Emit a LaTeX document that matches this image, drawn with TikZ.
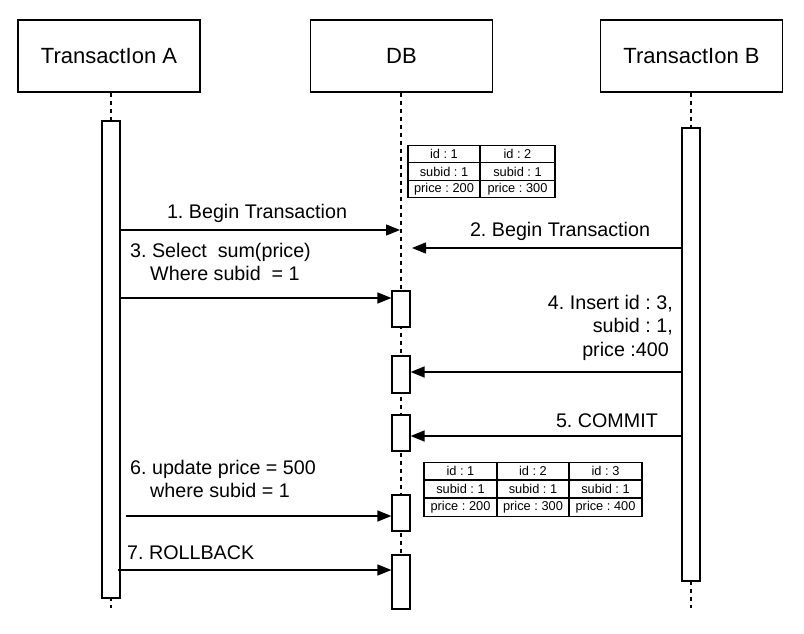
\documentclass[tikz,border=0pt]{standalone}
\usepackage{fontspec}
\setmainfont{Liberation Sans}
\usetikzlibrary{arrows.meta}
\frenchspacing
\begin{document}
\begin{tikzpicture}[x=1pt,y=-1pt,
  header/.style={draw,line width=1.2pt,minimum width=182pt,minimum height=72pt,inner sep=0pt,font=\fontsize{22}{25}\selectfont},
  act/.style={draw,fill=white,line width=1.2pt,minimum width=18pt,inner sep=0pt},
  life/.style={line width=1.3pt,dash pattern=on 4pt off 4pt},
  msg/.style={line width=1.4pt,-{Triangle[length=14pt,width=11pt]}},
  lbl/.style={inner sep=0pt,font=\fontsize{19.7}{23.5}\selectfont},
  cell/.style={draw,line width=1.2pt,inner sep=0pt,minimum height=17.6pt,font=\fontsize{12.8}{14}\selectfont}
]
\useasboundingbox[fill=white] (0,0) rectangle (804,633);
% headers
\node[header] (hA) at (109,56) {TransactIon A};
\node[header] (hD) at (401.5,56) {DB};
\node[header] (hB) at (691.5,56) {TransactIon B};
% lifeline ends
\coordinate (eA) at (111,608);
\coordinate (eD) at (401,560);
\coordinate (eB) at (691,608);
\draw[life] (hA.south -| eA) -- (eA);
\draw[life] (hD.south -| eD) -- (eD);
\draw[life] (hB.south -| eB) -- (eB);
% activations
\node[act,minimum height=477pt] (aA) at (111,359.5) {};
\node[act,minimum height=453pt] (aB) at (691,354.5) {};
\node[act,minimum height=36pt] (d1) at (401,309) {};
\node[act,minimum height=37pt] (d2) at (401,374.5) {};
\node[act,minimum height=36pt] (d3) at (401,433) {};
\node[act,minimum height=36pt] (d4) at (401,513) {};
\node[act,minimum height=54pt] (d5) at (401,582) {};
% message points on DB lifeline
\coordinate (m1) at (400,230);
\coordinate (m2) at (412,248);
% messages
\draw[msg] (aA.east |- m1) -- (m1);
\draw[msg] (aB.west |- m2) -- (m2);
\draw[msg] (aA.east |- 0,298) -- (d1.west |- 0,298);
\draw[msg] (aB.west |- 0,372) -- (d2.east |- 0,372);
\draw[msg] (aB.west |- 0,436) -- (d3.east |- 0,436);
\draw[msg] ([xshift=5pt]aA.east |- 0,516) -- (d4.west |- 0,516);
\draw[msg] ([xshift=-3pt]aA.east |- 0,570) -- (d5.west |- 0,570);
% labels
\node[lbl] (l1) at (257,213) {1. Begin Transaction};
\node[lbl] (l2) at (560,231) {2. Begin Transaction};
\node[lbl,anchor=north west,align=left] (l3) at (130,243) {3. Select~~sum(price)\\\hspace*{20pt}Where subid~~= 1};
\node[lbl,anchor=north east,align=right] (l4) at (673,295) {4. Insert id : 3,\\subid : 1,\\price :400\hspace*{4pt}};
\node[lbl,anchor=east] (l5) at (658,421) {5. COMMIT};
\node[lbl,anchor=north west,align=left] (l6) at (130,460) {6. update price = 500\\\hspace*{20pt}where subid = 1};
\node[lbl,anchor=west] (l7) at (127,553) {7. ROLLBACK};
% table 1
\foreach \c/\x/\w in {1/444/72,2/517.5/75}{
  \node[cell,minimum width=\w pt] (t1a\c) at (\x,154) {id : \c};
  \node[cell,minimum width=\w pt] (t1b\c) at (\x,171.5) {subid : 1};
}
\node[cell,minimum width=72pt] (t1c1) at (444,189) {price : 200};
\node[cell,minimum width=75pt] (t1c2) at (517.5,189) {price : 300};
% table 2
\foreach \c/\x in {1/460.5,2/533,3/605.5}{
  \node[cell,minimum width=73pt] (t2a\c) at (\x,471) {id : \c};
  \node[cell,minimum width=73pt] (t2b\c) at (\x,489) {subid : 1};
}
\node[cell,minimum width=73pt] (t2c1) at (460.5,507.5) {price : 200};
\node[cell,minimum width=73pt] (t2c2) at (533,507.5) {price : 300};
\node[cell,minimum width=73pt] (t2c3) at (605.5,507.5) {price : 400};
\end{tikzpicture}
\end{document}
